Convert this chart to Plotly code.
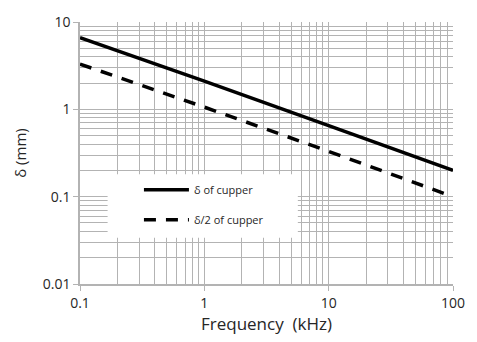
import plotly.graph_objects as go

freq_khz = [0.1, 1, 10, 100]
delta_mm = [6.6, 2.1, 0.65, 0.2]
half_delta_mm = [3.3, 1.06, 0.33, 0.1]

x_tick_vals = [0.1, 1, 10, 100]
x_tick_text = ["0.1", "1", "10", "100"]
y_tick_vals = [0.01, 0.1, 1, 10]
y_tick_text = ["0.01", "0.1", "1", "10"]

FONT = "Open Sans"
GRID = "#b3b3b3"
TXT = "#262626"

fig = go.Figure()
fig.add_trace(go.Scatter(x=freq_khz, y=delta_mm, mode="lines", name="δ of cupper",
                         legendgroup="a",
                         line=dict(color="black", width=3.5)))
fig.add_trace(go.Scatter(x=freq_khz, y=half_delta_mm, mode="lines", name="δ/2 of cupper",
                         legendgroup="b",
                         line=dict(color="black", width=3.5, dash="12px,10px")))

# white legend backdrop (covers gridlines; does not overlap the curves)
fig.add_shape(type="rect", xref="paper", yref="paper", x0=0.074, x1=0.584, y0=0.177, y1=0.419,
              fillcolor="white", line=dict(width=0), layer="above")

axis_common = dict(
    type="log", showline=True, linecolor=GRID, linewidth=1.5,
    showgrid=True, gridcolor=GRID, gridwidth=1,
    ticks="outside", ticklen=5, tickcolor=GRID,
    zeroline=False,
    tickfont=dict(family=FONT, size=14, color=TXT),
    minor=dict(dtick="D1", showgrid=True, gridcolor=GRID, gridwidth=1, ticks=""),
)

fig.update_xaxes(**axis_common, range=[-1, 2], tickvals=x_tick_vals, ticktext=x_tick_text,
                 title=dict(text="Frequency\u00a0 (kHz)", font=dict(family=FONT, size=17, color=TXT), standoff=6))
fig.update_yaxes(**axis_common, range=[-2, 1], tickvals=y_tick_vals, ticktext=y_tick_text,
                 title=dict(text="δ (mm)", font=dict(family=FONT, size=15, color=TXT), standoff=12))

fig.update_layout(
    width=477, height=342,
    margin=dict(l=80, r=20, t=19, b=58),
    paper_bgcolor="white", plot_bgcolor="white",
    showlegend=True,
    legend=dict(x=0.158, y=0.415, xanchor="left", yanchor="top",
                bgcolor="rgba(0,0,0,0)", tracegroupgap=11, itemwidth=45,
                font=dict(family=FONT, size=11, color=TXT)),
)

fig.write_html("out.html", config={"displayModeBar": False},
               post_script="document.body.style.margin='0';")
